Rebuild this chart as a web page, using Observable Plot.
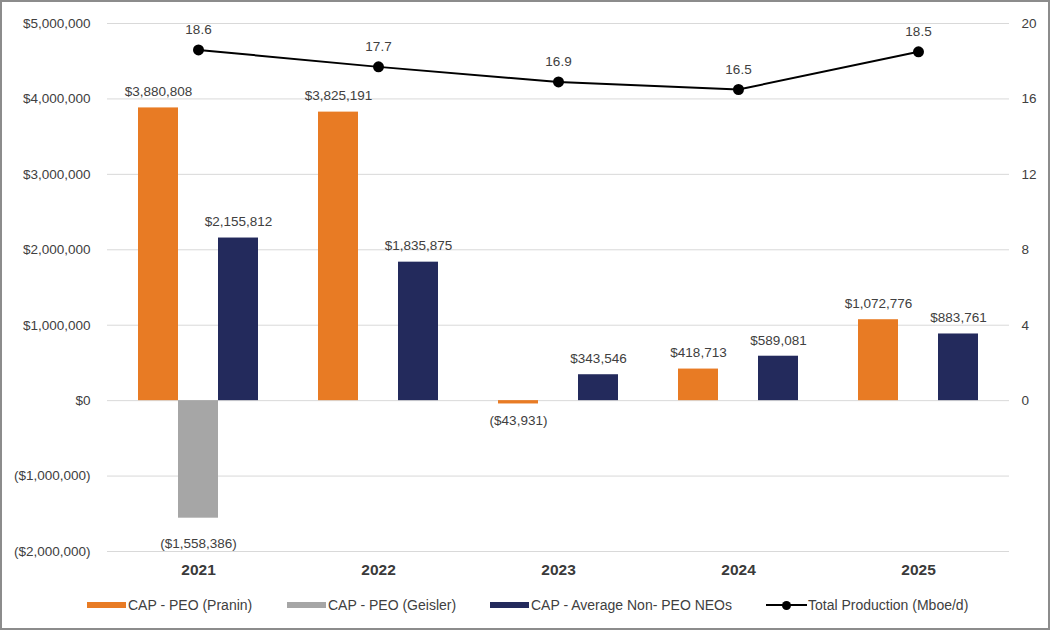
<!DOCTYPE html>
<html><head><meta charset="utf-8">
<script src="https://cdn.jsdelivr.net/npm/d3@7"></script>
<script src="https://cdn.jsdelivr.net/npm/@observablehq/plot@0.6"></script>
<style>
body{margin:0;background:#fff;font-family:"Liberation Sans",Arial,sans-serif;}
#wrap{position:relative;width:1052px;height:632px;overflow:hidden;}
.layer{position:absolute;left:0;top:0;}
.frame{position:absolute;left:0;top:0;width:1046px;height:626px;border:2px solid #8c8c8c;pointer-events:none;}
.leg{position:absolute;top:596px;height:18px;display:flex;align-items:center;font-size:14px;color:#404040;white-space:nowrap;}
.sw{width:39px;height:6px;margin-right:2px;}
.lsw{position:relative;width:41px;height:12px;margin-right:1px;}
.lsw .ln{position:absolute;left:0;right:0;top:5px;height:2px;background:#000;}
.lsw .dt{position:absolute;left:16px;top:1.5px;width:9px;height:9px;border-radius:50%;background:#000;}
</style></head>
<body><div id="wrap"></div>
<script>
// ---- data ----
const years = ["2021", "2022", "2023", "2024", "2025"];
const seriesNames = ["CAP - PEO (Pranin)", "CAP - PEO (Geisler)", "CAP - Average Non- PEO NEOs"];
const pranin = [3880808, 3825191, -43931, 418713, 1072776];
const geisler = [-1558386, null, null, null, null];
const nonPeo = [2155812, 1835875, 343546, 589081, 883761];
const production = [18.6, 17.7, 16.9, 16.5, 18.5];
const productionName = "Total Production (Mboe/d)";
const dollarTicks = [5000000, 4000000, 3000000, 2000000, 1000000, 0, -1000000, -2000000];
const productionTicks = [0, 4, 8, 12, 16, 20];
const colors = ["#E87B24", "#A6A6A6", "#232A5C"];

// ---- layout ----
const W = 1052, H = 580;
const M = {marginLeft: 107, marginRight: 43, marginTop: 23, marginBottom: 29};
const font = "'Liberation Sans', Arial, sans-serif";
const txt = "#404040";
const baseStyle = {fontFamily: font, fontSize: "13.5px", color: txt, background: "transparent", overflow: "visible"};

const fmtNum = d3.format(",");
const fmtDollar = v => v < 0 ? `($${fmtNum(-v)})` : `$${fmtNum(v)}`;

const rows = years.flatMap((yr, i) => [
  {year: yr, series: seriesNames[0], value: pranin[i]},
  {year: yr, series: seriesNames[1], value: geisler[i]},
  {year: yr, series: seriesNames[2], value: nonPeo[i]}
]).filter(d => d.value != null);
const prodRows = years.map((yr, i) => ({year: yr, value: production[i]}));

const wrap = document.getElementById("wrap");

// layer 1: grid + left axis + year axis
const p1 = Plot.plot({
  width: W, height: H, ...M,
  style: {...baseStyle, background: "white"},
  x: {type: "point", domain: years, padding: 0.5},
  y: {domain: [-2000000, 5000000]},
  marks: [
    Plot.gridY(dollarTicks, {stroke: "#d9d9d9", strokeOpacity: 1, strokeWidth: 1}),
    Plot.axisY(dollarTicks, {anchor: "left", tickSize: 0, tickPadding: 17, tickFormat: fmtDollar, label: null, fill: txt}),
    Plot.axisX({anchor: "bottom", tickSize: 0, tickPadding: 12, fontWeight: "bold", fontSize: 15.5, label: null, fill: "#3a3a3a"})
  ]
});
p1.classList.add("layer");
wrap.appendChild(p1);

// layer 2: grouped bars + value labels
const p2 = Plot.plot({
  width: W, height: H, ...M,
  style: baseStyle,
  fx: {domain: years, paddingInner: 0.335, paddingOuter: 0.1675, axis: null, label: null},
  x: {domain: seriesNames, padding: 0, axis: null},
  y: {domain: [-2000000, 5000000], axis: null},
  color: {domain: seriesNames, range: colors},
  marks: [
    Plot.barY(rows, {fx: "year", x: "series", y: "value", fill: "series"}),
    Plot.text(rows.filter(d => d.value >= 0), {fx: "year", x: "series", y: "value", text: d => fmtDollar(d.value), dy: -16, fill: txt}),
    Plot.text(rows.filter(d => d.value < 0 && d.series === seriesNames[0]), {fx: "year", x: "series", y: "value", text: d => fmtDollar(d.value), dy: 17, fill: txt}),
    Plot.text(rows.filter(d => d.value < 0 && d.series === seriesNames[1]), {fx: "year", x: "series", y: "value", text: d => fmtDollar(d.value), dy: 25, fill: txt})
  ]
});
p2.classList.add("layer");
wrap.appendChild(p2);

// layer 3: production line + right axis
const p3 = Plot.plot({
  width: W, height: H, ...M,
  style: baseStyle,
  x: {type: "point", domain: years, padding: 0.5, axis: null},
  y: {domain: [-8, 20], axis: null},
  marks: [
    Plot.axisY(productionTicks, {anchor: "right", tickSize: 0, tickPadding: 12, label: null, fill: txt}),
    Plot.line(prodRows, {x: "year", y: "value", stroke: "#000", strokeWidth: 2}),
    Plot.dot(prodRows, {x: "year", y: "value", r: 5.5, fill: "#000", stroke: "none"}),
    Plot.text(prodRows, {x: "year", y: "value", text: d => d.value.toFixed(1), dy: -20, fill: txt})
  ]
});
p3.classList.add("layer");
wrap.appendChild(p3);

// legend
const legLefts = [87, 287, 490, 766];
seriesNames.forEach((name, i) => {
  const item = document.createElement("div");
  item.className = "leg";
  item.style.left = legLefts[i] + "px";
  const sw = document.createElement("div");
  sw.className = "sw";
  sw.style.background = colors[i];
  item.appendChild(sw);
  item.appendChild(document.createTextNode(name));
  wrap.appendChild(item);
});
{
  const item = document.createElement("div");
  item.className = "leg";
  item.style.left = legLefts[3] + "px";
  const sw = document.createElement("div");
  sw.className = "lsw";
  sw.innerHTML = '<div class="ln"></div><div class="dt"></div>';
  item.appendChild(sw);
  item.appendChild(document.createTextNode(productionName));
  wrap.appendChild(item);
}

const frame = document.createElement("div");
frame.className = "frame";
wrap.appendChild(frame);
</script>
</body></html>
